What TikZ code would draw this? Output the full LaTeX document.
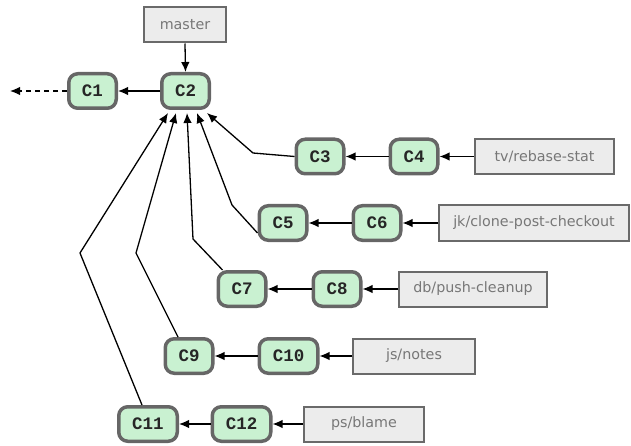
\documentclass[tikz,border=0pt]{standalone}
\usepackage{fontspec}
\setmainfont{DejaVu Sans}
\newfontfamily\commitfont{Liberation Mono}
\usetikzlibrary{arrows.meta}
\definecolor{cfill}{HTML}{C9F1D1}
\definecolor{cborder}{HTML}{666666}
\definecolor{lfill}{HTML}{ECECEC}
\definecolor{lborder}{HTML}{6A6A6A}
\definecolor{ltext}{HTML}{777777}
\begin{document}
\begin{tikzpicture}[x=1pt,y=-1pt,
  commit/.style={draw=cborder, line width=3.5pt, fill=cfill, rounded corners=9pt,
    minimum width=47.5pt, minimum height=34.5pt, inner sep=0pt,
    font=\commitfont\bfseries\fontsize{17.5}{17.5}\selectfont, text=black!85},
  wide/.style={minimum width=58.5pt},
  branch/.style={draw=lborder, line width=2pt, fill=lfill, inner sep=0pt,
    minimum height=35pt, font=\fontsize{14.3}{14.3}\selectfont, text=ltext},
  link/.style={line width=1.3pt, -{Latex[length=10pt,width=8.5pt]}},
]
\useasboundingbox (0,0) rectangle (631,446);

\node[branch, minimum width=82pt] (master) at (185,25) {master};
\node[commit] (C1) at (92.5,91) {C1};
\node[commit] (C2) at (185.5,91) {C2};

\node[commit] (C3) at (320,156.5) {C3};
\node[commit] (C4) at (414,156.5) {C4};
\node[branch, minimum width=139pt] (tv) at (544.5,156.5) {tv/rebase-stat};

\node[commit] (C5) at (283,223) {C5};
\node[commit] (C6) at (377,223) {C6};
\node[branch, minimum width=190pt] (jk) at (534,223) {jk/clone-post-checkout};

\node[commit] (C7) at (242,289) {C7};
\node[commit] (C8) at (337,289) {C8};
\node[branch, minimum width=148pt] (db) at (473,289) {db/push-cleanup};

\node[commit] (C9) at (189,356) {C9};
\node[commit, wide] (C10) at (288.5,356) {C10};
\node[branch, minimum width=122pt] (js) at (414,356) {js/notes};

\node[commit, wide] (C11) at (148,424) {C11};
\node[commit, wide] (C12) at (241.5,424) {C12};
\node[branch, minimum width=120pt] (ps) at (364,424) {ps/blame};

\coordinate (past) at (10,91);
\coordinate (b3) at (253,153);
\coordinate (b5) at (232,205);
\coordinate (b7) at (193,239);
\coordinate (b9) at (136,253);
\coordinate (b11) at (80,253);

\draw[link] (master.south) -- (C2.north);
\draw[link] (C2.west) -- (C1.east);
\draw[link, dash pattern=on 5pt off 4pt] (C1.west) -- (past);

\draw[link] (C4.west) -- (C3.east);
\draw[link] (tv.west) -- (C4.east);
\draw[link] (C6.west) -- (C5.east);
\draw[link] (jk.west) -- (C6.east);
\draw[link] (C8.west) -- (C7.east);
\draw[link] (db.west) -- (C8.east);
\draw[link] (C10.west) -- (C9.east);
\draw[link] (js.west) -- (C10.east);
\draw[link] (C12.west) -- (C11.east);
\draw[link] (ps.west) -- (C12.east);

\draw[link] (C3.west) -- (b3) -- ([shift={(21.5,3)}]C2.south);
\draw[link] ([yshift=-10pt]C5.west) -- (b5) -- ([shift={(11.5,3)}]C2.south);
\draw[link] ([xshift=6pt]C7.north west) -- (b7) -- ([shift={(1.5,3)}]C2.south);
\draw[link] ([xshift=-11pt]C9.north) -- (b9) -- ([shift={(-9.5,3)}]C2.south);
\draw[link] ([xshift=-6pt]C11.north) -- (b11) -- ([shift={(-17.5,3)}]C2.south);
\end{tikzpicture}
\end{document}
